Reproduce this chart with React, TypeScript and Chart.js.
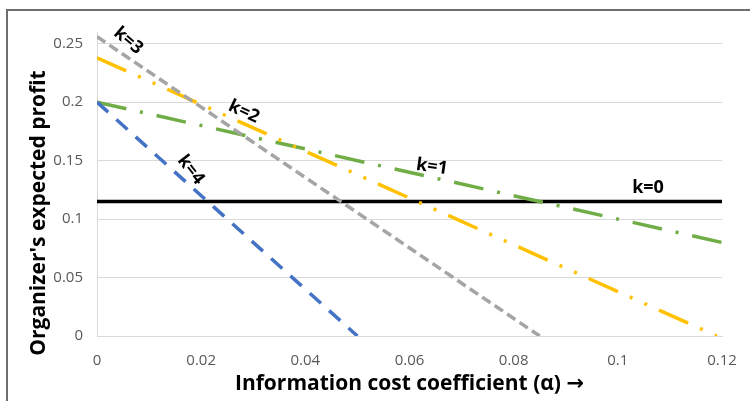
import React, { useEffect, useRef } from "react";
import { Chart, registerables } from "chart.js";

Chart.register(...registerables);

// ---- data ----
const seriesNames = ["k=0", "k=1", "k=2", "k=3", "k=4"];
const alphaK0 = [0, 0.12];
const profitK0 = [0.115, 0.115];
const alphaK1 = [0, 0.12];
const profitK1 = [0.2, 0.08];
const alphaK2 = [0, 0.119];
const profitK2 = [0.238, 0];
const alphaK3 = [0, 0.085];
const profitK3 = [0.256, 0];
const alphaK4 = [0, 0.05];
const profitK4 = [0.2, 0];

const xTickValues = [0, 0.02, 0.04, 0.06, 0.08, 0.1, 0.12];
const yTickValues = [0, 0.05, 0.1, 0.15, 0.2, 0.25];

const xTitle = "Information cost coefficient (α) →";
const yTitle = "Organizer's expected profit";

// label annotations (in data units)
const labelTexts = ["k=0", "k=1", "k=2", "k=3", "k=4"];
const labelAlpha = [0.1058, 0.0643, 0.0282, 0.006, 0.018];
const labelProfit = [0.1267, 0.1447, 0.1918, 0.2526, 0.1421];
const labelAngleDeg = [0, 8, 25, 40, 52];

const colors = ["#000000", "#70AD47", "#FFC000", "#A5A5A5", "#4472C4"];
const dashes: number[][] = [[], [30, 14, 3, 14], [32, 13, 3, 13, 3, 13], [10, 5], [15, 11]];

const toPoints = (xs: number[], ys: number[]) => xs.map((x, i) => ({ x, y: ys[i] }));
const allSeries = [
  toPoints(alphaK0, profitK0),
  toPoints(alphaK1, profitK1),
  toPoints(alphaK2, profitK2),
  toPoints(alphaK3, profitK3),
  toPoints(alphaK4, profitK4),
];

const FONT = "'Open Sans', 'DejaVu Sans', sans-serif";

const decorPlugin = {
  id: "decor",
  beforeDraw(chart: any) {
    const ctx = chart.ctx;
    ctx.save();
    ctx.fillStyle = "#ffffff";
    ctx.fillRect(0, 0, chart.width, chart.height);
    ctx.strokeStyle = "#6e6e6e";
    ctx.lineWidth = 2;
    ctx.beginPath();
    ctx.moveTo(7, chart.height);
    ctx.lineTo(7, 10);
    ctx.lineTo(chart.width, 10);
    ctx.stroke();
    ctx.restore();
  },
  afterDraw(chart: any) {
    const ctx = chart.ctx;
    const area = chart.chartArea;
    ctx.save();
    ctx.fillStyle = "#000000";
    ctx.font = `bold 21px ${FONT}`;
    ctx.textAlign = "center";
    ctx.textBaseline = "middle";
    ctx.fillText(xTitle, (area.left + area.right) / 2 - 0, 384);
    ctx.save();
    ctx.translate(39, 213);
    ctx.rotate(-Math.PI / 2);
    ctx.fillText(yTitle, 0, 0);
    ctx.restore();
    ctx.restore();
  },
  afterDatasetsDraw(chart: any) {
    const ctx = chart.ctx;
    const xs = chart.scales.x;
    const ys = chart.scales.y;
    ctx.save();
    ctx.fillStyle = "#000000";
    ctx.font = `bold 18px ${FONT}`;
    ctx.textAlign = "center";
    ctx.textBaseline = "middle";
    labelTexts.forEach((t, i) => {
      const px = xs.getPixelForValue(labelAlpha[i]);
      const py = ys.getPixelForValue(labelProfit[i]);
      ctx.save();
      ctx.translate(px, py);
      ctx.rotate((labelAngleDeg[i] * Math.PI) / 180);
      ctx.fillText(t, 0, 0);
      ctx.restore();
    });
    ctx.restore();
  },
};

export default function App() {
  const ref = useRef<HTMLCanvasElement | null>(null);
  useEffect(() => {
    if (!ref.current) return;
    const chart = new Chart(ref.current, {
      type: "line",
      data: {
        datasets: allSeries.map((pts, i) => ({
          label: seriesNames[i],
          data: pts,
          borderColor: colors[i],
          backgroundColor: colors[i],
          borderWidth: 3.5,
          borderDash: dashes[i],
          borderCapStyle: "butt" as const,
          pointRadius: 0,
          fill: false,
          tension: 0,
          order: 4 - i,
        })),
      },
      options: {
        responsive: false,
        animation: false,
        layout: { padding: { left: 22, right: 28, top: 32, bottom: 4 } },
        plugins: { legend: { display: false }, tooltip: { enabled: false } },
        scales: {
          x: {
            type: "linear",
            min: 0,
            max: 0.12,
            afterBuildTicks: (s: any) => {
              s.ticks = xTickValues.map((v) => ({ value: v }));
            },
            afterFit: (s: any) => {
              s.height = 61;
            },
            ticks: {
              color: "#595959",
              font: { family: FONT, size: 15 },
              padding: 8,
              callback: (v: any) => String(Number(Number(v).toFixed(2))),
            },
            grid: { display: false },
            border: { display: true, color: "#d9d9d9", width: 1 },
            title: { display: false },
          },
          y: {
            type: "linear",
            min: 0,
            max: 0.26,
            afterBuildTicks: (s: any) => {
              s.ticks = yTickValues.map((v) => ({ value: v }));
            },
            afterFit: (s: any) => {
              s.width = 75;
            },
            ticks: {
              color: "#595959",
              font: { family: FONT, size: 15 },
              padding: 14,
              callback: (v: any) => String(Number(Number(v).toFixed(2))),
            },
            grid: { color: "#d9d9d9", lineWidth: 1, drawTicks: false },
            border: { display: true, color: "#d9d9d9", width: 1 },
            title: { display: false },
          },
        },
      },
      plugins: [decorPlugin],
    });
    return () => chart.destroy();
  }, []);
  return (
    <div style={{ position: "absolute", left: 0, top: 0, width: 750, height: 401 }}>
      <canvas ref={ref} width={750} height={401} />
    </div>
  );
}
